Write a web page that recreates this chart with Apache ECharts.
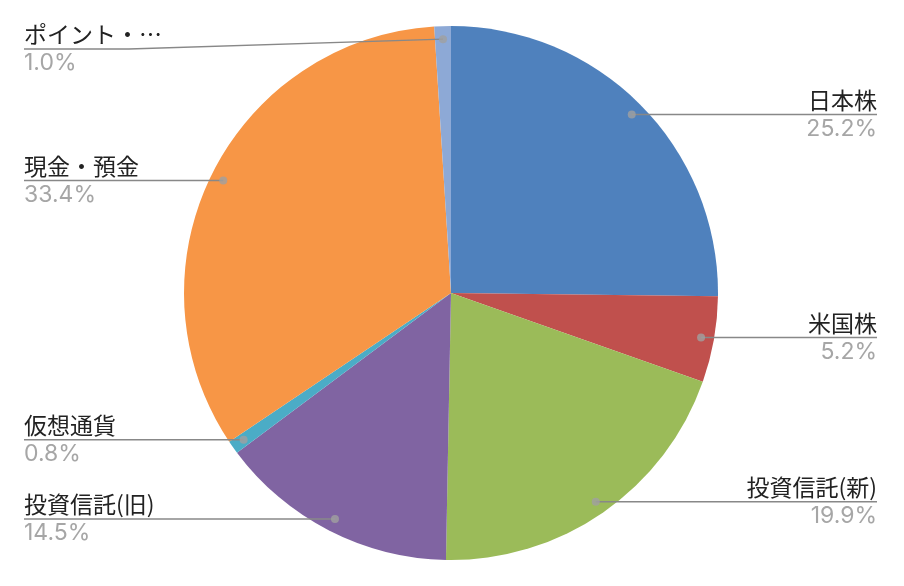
<!DOCTYPE html>
<html>
<head>
<meta charset="utf-8">
<script src="https://cdn.jsdelivr.net/npm/echarts@6/dist/echarts.min.js"></script>
<style>
  html, body { margin: 0; padding: 0; background: #fff; }
  #chart { width: 904px; height: 586px; }
</style>
</head>
<body>
<div id="chart"></div>
<script>
// 資産の内訳 (%)
const names = ['日本株', '米国株', '投資信託(新)', '投資信託(旧)', '仮想通貨', '現金・預金', 'ポイント・…'];
const shares = [25.2, 5.2, 19.9, 14.5, 0.8, 33.4, 1.0];
const colors = ['#4F81BD', '#C0504D', '#9BBB59', '#8064A2', '#4BACC6', '#F79646', '#8DA9D6'];

const CX = 451, CY = 293, R = 267, R_DOT = 254, TOP = 22;
const NAME_SIZE = 23, PCT_SIZE = 23;
const NAME_FAMILY = 'Noto Sans CJK JP', PCT_FAMILY = 'Inter';
const TOP_LABEL = 6;   // 上端で押し下げられるラベル (ポイント)
const HELPER = 3;      // その押し下げ計算用の見えないラベル

// ラベル幅を測って、線を文字の下まで伸ばす
const ctx = document.createElement('canvas').getContext('2d');
function textWidth(s, size, family) {
  ctx.font = size + 'px ' + "'" + family + "'";
  return ctx.measureText(s).width;
}
const pctText = v => v.toFixed(1) + '%';

const total = shares.reduce((a, b) => a + b, 0);
let acc = 0;
const mids = shares.map(v => { const m = acc + v / 2; acc += v; return m; });

function richStyle(cn, cp) {
  return {
    n: { fontFamily: NAME_FAMILY, fontSize: NAME_SIZE, color: cn, lineHeight: 29 },
    p: { fontFamily: PCT_FAMILY, fontSize: PCT_SIZE, color: cp, lineHeight: 29 }
  };
}

function labelItem(i, show, ghost) {
  const w = Math.max(textWidth(names[i], NAME_SIZE, NAME_FAMILY), textWidth(pctText(shares[i]), PCT_SIZE, PCT_FAMILY));
  const rightSide = mids[i] < total / 2;
  return {
    name: names[i],
    value: shares[i],
    label: {
      show: show,
      distanceToLabelLine: -w,
      edgeDistance: rightSide ? 27 : 24,
      rich: ghost ? richStyle('rgba(0,0,0,0)', 'rgba(0,0,0,0)') : richStyle('#222222', '#a6a6a6')
    },
    labelLine: { show: show && !ghost, length2: w }
  };
}

function labelSeries(data) {
  return {
    type: 'pie',
    top: TOP,
    center: [CX, CY - TOP],
    radius: R_DOT,
    silent: true,
    z: 3,
    itemStyle: { color: 'rgba(0,0,0,0)' },
    label: {
      show: true,
      position: 'outside',
      alignTo: 'edge',
      formatter: p => '{n|' + p.name + '}\n{p|' + pctText(p.value) + '}'
    },
    labelLine: {
      show: true,
      length: 0,
      lineStyle: { color: '#888888', width: 1.5 }
    },
    data: data
  };
}

let myChart = echarts.init(document.getElementById('chart'));

let option = {
  animation: false,
  polar: { center: [CX, CY], radius: R },
  angleAxis: { type: 'value', min: 0, max: total, startAngle: 90, clockwise: true, show: false },
  radiusAxis: { type: 'value', min: 0, max: R, show: false },
  series: [
    {
      type: 'pie',
      top: TOP,
      center: [CX, CY - TOP],
      radius: R,
      silent: true,
      label: { show: false },
      labelLine: { show: false },
      data: names.map((n, i) => ({ name: n, value: shares[i], itemStyle: { color: colors[i] } }))
    },
    labelSeries(names.map((n, i) => labelItem(i, i !== TOP_LABEL, false))),
    labelSeries(names.map((n, i) => labelItem(i, i === TOP_LABEL || i === HELPER, i === HELPER))),
    {
      type: 'scatter',
      coordinateSystem: 'polar',
      silent: true,
      z: 10,
      symbol: 'circle',
      symbolSize: 8,
      itemStyle: { color: '#a0a0a0' },
      data: mids.map(m => [R_DOT, m])
    }
  ]
};
myChart.setOption(option);
</script>
</body>
</html>
